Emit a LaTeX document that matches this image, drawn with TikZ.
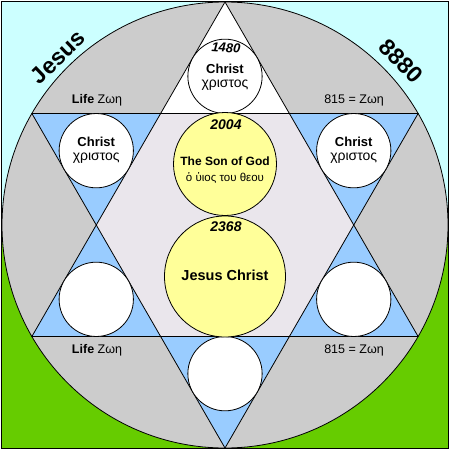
\documentclass[tikz,border=0pt]{standalone}
\usepackage{fontspec}
\setmainfont{Liberation Sans}
\usetikzlibrary{positioning}
\definecolor{skycyan}{HTML}{CCFFFF}
\definecolor{grassgreen}{HTML}{66CC00}
\definecolor{ringgray}{HTML}{CCCCCC}
\definecolor{pointblue}{HTML}{99CCFF}
\definecolor{sunyellow}{HTML}{FFFF99}
\definecolor{hexfill}{RGB}{234,230,236}

\begin{document}
\begin{tikzpicture}[x=1pt,y=-1pt, line width=0.8pt,
    disc/.style={circle, draw, fill=white, inner sep=0pt, minimum size=74.3pt},
    word/.style={inner sep=0pt, font=\fontsize{14}{16}\selectfont},
    boldword/.style={inner sep=0pt, font=\bfseries\fontsize{13}{15}\selectfont},
    num/.style={inner sep=0pt, font=\bfseries\itshape\fontsize{14}{16}\selectfont},
    side/.style={inner sep=0pt, font=\fontsize{12.5}{14}\selectfont}]
    \useasboundingbox (0,0) rectangle (450,450);

    % Background: sky above, grass below
    \fill[skycyan] (1.5,1.5) rectangle (448.5,225);
    \fill[grassgreen] (1.5,225) rectangle (448.5,448.5);

    % Big circle
    \draw[fill=ringgray] (225,225) circle[radius=223pt];

    % Star corners
    \coordinate (T) at (225,2);
    \coordinate (B) at (225,448);
    \coordinate (UL) at (31.88,113.5);
    \coordinate (UR) at (418.12,113.5);
    \coordinate (LL) at (31.88,336.5);
    \coordinate (LR) at (418.12,336.5);
    % Inner hexagon
    \coordinate (h1) at (160.63,113.5);
    \coordinate (h2) at (289.37,113.5);
    \coordinate (h3) at (353.75,225);
    \coordinate (h4) at (289.37,336.5);
    \coordinate (h5) at (160.63,336.5);
    \coordinate (h6) at (96.25,225);

    \fill[hexfill] (h1) -- (h2) -- (h3) -- (h4) -- (h5) -- (h6) -- cycle;
    \fill[white] (T) -- (h2) -- (h1) -- cycle;
    \fill[pointblue] (UL) -- (h1) -- (h6) -- cycle;
    \fill[pointblue] (UR) -- (h3) -- (h2) -- cycle;
    \fill[pointblue] (LL) -- (h6) -- (h5) -- cycle;
    \fill[pointblue] (LR) -- (h4) -- (h3) -- cycle;
    \fill[pointblue] (B) -- (h5) -- (h4) -- cycle;
    \draw[line join=miter] (T) -- (LR) -- (LL) -- cycle;
    \draw[line join=miter] (B) -- (UL) -- (UR) -- cycle;

    % Circles in the points
    \node[disc] (dtop) at (225,76.33) {};
    \node[disc] (dul) at (96.25,150.67) {};
    \node[disc] (dur) at (353.75,150.67) {};
    \node[disc] (dll) at (96.25,299.33) {};
    \node[disc] (dlr) at (353.75,299.33) {};
    \node[disc] (dbot) at (225,373.67) {};

    % Yellow circles
    \node[disc, fill=sunyellow, minimum size=103pt] (son) at (225,164) {};
    \node[disc, fill=sunyellow, minimum size=121pt] (jc) at (225,276.5) {};

    % Texts
    \node[num, font=\bfseries\itshape\fontsize{13}{15}\selectfont, rotate=-4] (n1480) at (226,48) {1480};
    \node[boldword] (ctop) at (225,69) {Christ};
    \node[word] (gtop) at (225,85) {χριστος};
    \node[boldword] (cul) at (96.25,142) {Christ};
    \node[word] (gul) at (96.25,158) {χριστος};
    \node[boldword] (cur) at (353.75,142) {Christ};
    \node[word] (gur) at (353.75,158) {χριστος};

    \node[num] (n2004) at (226,125) {2004};
    \node[boldword, font=\bfseries\fontsize{12}{14}\selectfont] (sonen) at (225,161.5) {The Son of God};
    \node[word, font=\fontsize{11.5}{13}\selectfont] (songr) at (225,178) {ὁ ὑιος του θεου};
    \node[num] (n2368) at (226,227) {2368};
    \node[boldword, font=\bfseries\fontsize{14.5}{16}\selectfont] (jcen) at (225,275) {Jesus Christ};

    \node[side] (lifeul) at (97,100) {\textbf{Life} Ζωη};
    \node[side] (lifell) at (97,350) {\textbf{Life} Ζωη};
    \node[side] (zur) at (354,100) {815 = Ζωη};
    \node[side] (zlr) at (354,350) {815 = Ζωη};

    \node[inner sep=0pt, font=\bfseries\fontsize{23}{25}\selectfont, rotate=44] (jesus) at (58,57) {Jesus};
    \node[inner sep=0pt, font=\bfseries\fontsize{23}{25}\selectfont, rotate=-46] (total) at (401,61) {8880};

    % Frame
    \draw (1.5,1.5) rectangle (448.5,448.5);
\end{tikzpicture}
\end{document}
